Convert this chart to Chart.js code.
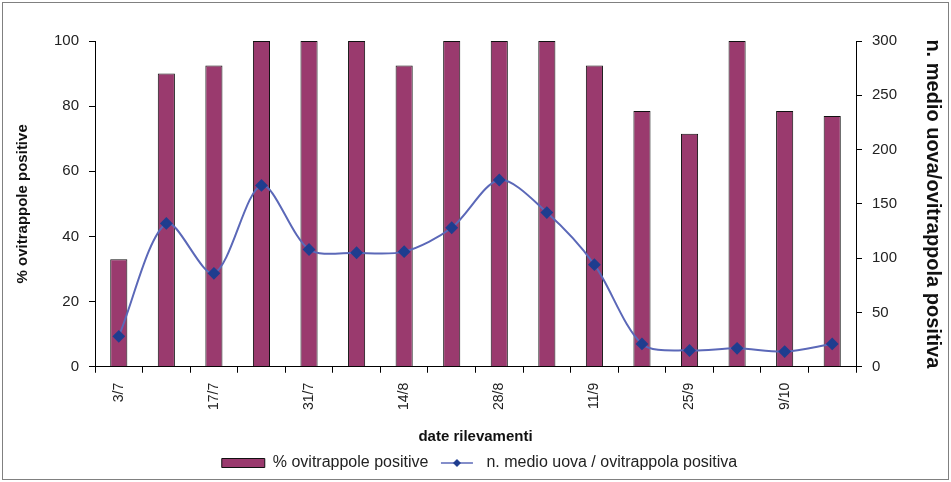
<!DOCTYPE html>
<html>
<head>
<meta charset="utf-8">
<script src="https://cdn.jsdelivr.net/npm/chart.js@4.4.1/dist/chart.umd.min.js"></script>
<style>
  html, body { margin: 0; padding: 0; background: #fff; }
  #c { display: block; }
</style>
</head>
<body>
<canvas id="c" width="951" height="482"></canvas>
<script>
// dates of each survey (only every other one is labelled on the axis)
const dates = ['3/7', '10/7', '17/7', '24/7', '31/7', '7/8', '14/8', '21/8',
               '28/8', '4/9', '11/9', '18/9', '25/9', '2/10', '9/10', '16/10'];
// % positive ovitraps (left axis)
const pctPositive = [33, 90, 92.5, 100, 100, 100, 92.5, 100, 100, 100, 92.5, 78.5, 71.5, 100, 78.5, 77];
// mean eggs per positive ovitrap (right axis)
const meanEggs = [28, 132, 86, 167, 108, 105, 106, 128, 172, 142, 94, 21, 15, 17, 14, 21];
const leftTicks = [0, 20, 40, 60, 80, 100];
const rightTicks = [0, 50, 100, 150, 200, 250, 300];

const FONT = '"Liberation Sans", Arial, sans-serif';
const BAR = '#9a3a6e';
const LINE = '#5b68b8';
const MARK = '#1f3d8f';

// legend swatch for the line series: line + diamond
function lineSwatch() {
  const cv = document.createElement('canvas');
  cv.width = 34; cv.height = 12;
  const g = cv.getContext('2d');
  g.strokeStyle = LINE; g.lineWidth = 1.5;
  g.beginPath(); g.moveTo(1, 6); g.lineTo(33, 6); g.stroke();
  g.fillStyle = MARK;
  g.beginPath(); g.moveTo(17, 2); g.lineTo(21, 6); g.lineTo(17, 10); g.lineTo(13, 6); g.closePath(); g.fill();
  return cv;
}

const frame = {
  id: 'frame',
  beforeDraw(chart) {
    const ctx = chart.ctx;
    ctx.save();
    ctx.fillStyle = '#fff';
    ctx.fillRect(0, 0, chart.width, chart.height);
    ctx.strokeStyle = '#808080';
    ctx.lineWidth = 1;
    ctx.strokeRect(2.5, 2.5, chart.width - 5, chart.height - 5);
    ctx.restore();
  }
};

new Chart(document.getElementById('c'), {
  data: {
    labels: dates,
    datasets: [
      {
        type: 'bar', label: '% ovitrappole positive', data: pctPositive, yAxisID: 'y',
        backgroundColor: BAR, borderColor: '#111', borderWidth: 1,
        barPercentage: 0.36, categoryPercentage: 1, order: 2
      },
      {
        type: 'line', label: 'n. medio uova / ovitrappola positiva', data: meanEggs, yAxisID: 'y2',
        borderColor: LINE, borderWidth: 2, tension: 0.3,
        pointStyle: 'rectRot', pointRadius: 5, pointBackgroundColor: MARK, pointBorderColor: MARK,
        order: 1
      }
    ]
  },
  options: {
    responsive: false, animation: false,
    layout: { padding: { top: 41, left: 10, right: 2, bottom: 1 } },
    plugins: {
      tooltip: { enabled: false },
      legend: {
        position: 'bottom',
        labels: {
          color: '#222', font: { family: FONT, size: 16 },
          usePointStyle: true, pointStyleWidth: 43, boxHeight: 9, padding: 7,
          generateLabels(chart) {
            const items = Chart.defaults.plugins.legend.labels.generateLabels(chart)
              .sort((a, b) => a.datasetIndex - b.datasetIndex);
            items[0].pointStyle = 'rect'; items[0].fillStyle = BAR; items[0].strokeStyle = '#111'; items[0].lineWidth = 1;
            items[1].pointStyle = lineSwatch();
            return items;
          }
        }
      }
    },
    scales: {
      x: {
        grid: { display: true, drawOnChartArea: false, offset: true, color: '#000', tickLength: 6 },
        border: { color: '#000' },
        ticks: {
          autoSkip: false, maxRotation: 90, minRotation: 90, color: '#222', padding: 10,
          font: { family: FONT, size: 14 },
          callback: (v, i) => (i % 2 === 0 ? dates[i] : '')
        },
        title: { display: true, text: 'date rilevamenti', color: '#111', font: { family: FONT, size: 15, weight: 'bold' }, padding: { top: 8, bottom: 2 } }
      },
      y: {
        position: 'left', min: 0, max: 100,
        afterBuildTicks: s => { s.ticks = leftTicks.map(v => ({ value: v })); },
        grid: { drawOnChartArea: false, color: '#000', tickLength: 6 },
        border: { color: '#000' },
        ticks: { color: '#222', font: { family: FONT, size: 15 }, padding: 10 },
        title: { display: true, text: '% ovitrappole positive', color: '#111', font: { family: FONT, size: 15, weight: 'bold' } },
        afterFit: s => { s.width = 85; }
      },
      y2: {
        position: 'right', min: 0, max: 300,
        afterBuildTicks: s => { s.ticks = rightTicks.map(v => ({ value: v })); },
        grid: { drawOnChartArea: false, color: '#000', tickLength: 6 },
        border: { color: '#000' },
        ticks: { color: '#222', font: { family: FONT, size: 15 }, padding: 10 },
        title: { display: true, text: 'n. medio uova/ovitrappola positiva', color: '#111', font: { family: FONT, size: 20, weight: 'bold' } },
        afterFit: s => { s.width = 93; }
      }
    }
  },
  plugins: [frame]
});
</script>
</body>
</html>
